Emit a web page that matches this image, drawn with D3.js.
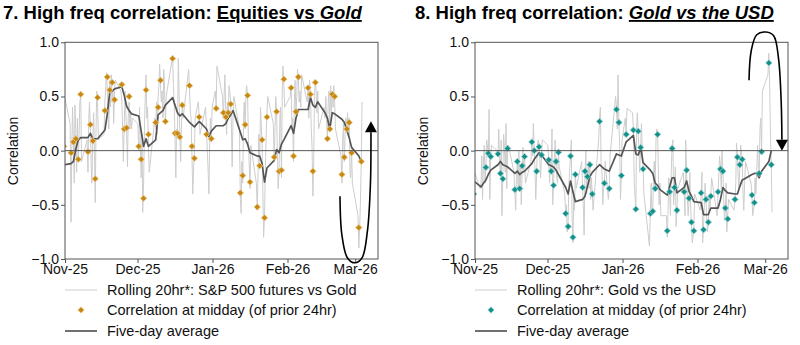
<!DOCTYPE html>
<html>
<head>
<meta charset="utf-8">
<script src="https://cdn.jsdelivr.net/npm/d3@7"></script>
<style>
  body { margin: 0; background: #fff; }
  svg { display: block; font-family: "Liberation Sans", Arial, sans-serif; }
</style>
</head>
<body>
<svg id="chart" width="800" height="345"></svg>
<script>
// trading days run Oct 31 2025 .. Mar 3 2026, weekdays less the two holidays
var holidays = ["2025-12-25", "2026-01-01"];
var xTickDates = ["2025-11-01", "2025-12-01", "2026-01-01", "2026-02-01", "2026-03-01"];
var xTickLabels = ["Nov-25", "Dec-25", "Jan-26", "Feb-26", "Mar-26"];
var yTicks = [1, 0.5, 0, -0.5, -1];
var rollHours = [3, 12, 20];   // three rolling readings per trading day

// chart 7: equities vs gold (one value per trading day, null = no dot)
var eqGoldDots = [0.04,
  -0.02, 0.08, 0.11, -0.08, 0.52,   -0.01, 0.24, 0.09, -0.26, 0.49,
  0.37, 0.68, 0.56, 0.63, 0.47,     0.61, 0.20, 0.21, 0.50, null,
  0.04, -0.08, -0.44, 0.56, 0.15,   0.26, 0.40, 0.65, null, 0.27,
  0.85, 0.16, 0.16, 0.125, 0.42,    0.60, 0.04, -0.07,   0.31,   0.15, null, 0.11,
  0.39,
  0.35, 0.31, 0.35, 0.43, null,     -0.39, -0.23, 0.24, 0.51, -0.29,
  -0.52, -0.14, 0.10, -0.62, 0.31,  -0.06, 0.36, -0.19, -0.18, 0.66,
  0.58, -0.05, 0.36, 0.68, null,    0.58, 0.52, -0.19, 0.63, null,
  null, 0.11, 0.20, 0.52, 0.50,     -0.22, -0.06, 0.20, 0.26, -0.02,
  -0.71, -0.10];
var eqGoldAvg = [-0.13,
  -0.12, -0.10, 0.02, 0.10, 0.12,   0.12, 0.16, 0.11, 0.11, 0.11,
  0.19, 0.34, 0.54, 0.55, 0.57,     0.59, 0.51, 0.41, 0.37, 0.34,
  0.32, 0.18, 0.04, 0.11, 0.04,     0.10, 0.33, 0.35, 0.37, 0.42,
  0.49, 0.42, 0.35, 0.32, 0.34,     0.26, 0.24, 0.22,   0.27,   0.20, 0.13, 0.18,
  0.23,
  0.23, 0.25, 0.30, 0.33, 0.37,     0.17, 0.10, 0.11, 0.06, -0.02,
  -0.05, -0.05, -0.12, -0.29, -0.16, -0.09, 0.01, -0.02, 0.06, 0.10,
  0.23, 0.16, 0.30, 0.38, 0.38,     0.38, 0.49, 0.42, 0.40, 0.45,
  0.35, 0.30, 0.20, 0.35, 0.34,     0.29, 0.26, 0.19, 0.12, 0.03,
  -0.05, -0.10];
var eqGoldRoll = [
  0.10, 0.30, 0.50,
  0.25, -0.66, 0.05,  0.40, 0.05, -0.30,  0.42, 0.15, -0.20,  0.30, -0.10, 0.15,  0.45, 0.50, -0.10,
  0.10, -0.20, 0.30,  0.45, 0.20, -0.15,  -0.30, 0.10, 0.35,  0.05, -0.48, 0.20,  0.55, 0.40, 0.10,
  0.15, 0.45, 0.60,  0.72, 0.55, 0.30,  0.20, 0.65, 0.40,  0.70, 0.45, 0.55,  0.25, 0.55, 0.65,
  0.55, 0.45, 0.20,  -0.10, 0.25, 0.55,  0.35, 0.15, -0.15,  0.30, 0.45, 0.20,  0.35, 0.20, 0.30,
  0.25, 0.00, 0.40,  0.10, -0.25, 0.15,  -0.57, -0.30, 0.20,  0.45, 0.70, 0.30,  0.40, 0.05, -0.20,
  0.30, 0.20, 0.45,  0.15, 0.50, 0.60,  0.80, 0.60, 0.45,  0.55, 0.30, 0.75,  0.60, 0.25, 0.50,
  0.82, 0.88, 0.60,  0.45, 0.10, -0.25,  0.20, 0.15, 0.85,  0.60, 0.10, -0.10,  0.20, 0.45, 0.30,
  0.75, 0.55, 0.35,  0.30, -0.05, -0.40,  -0.20, 0.00, 0.30,
  0.45, 0.30, 0.15,
  0.40, 0.20, 0.00,  -0.15, -0.40, 0.10,  0.30, 0.10, 0.40,
  0.55, 0.40, 0.78,
  0.50, 0.30, 0.55,  0.70, 0.35, 0.15,  0.45, 0.30, 0.60,  0.55, 0.45, 0.20,  -0.15, 0.35, 0.50,
  0.20, -0.45, -0.58,  -0.10, -0.30, 0.30,  0.45, 0.20, 0.55,  0.60, 0.50, 0.10,  -0.10, -0.35, 0.05,
  -0.30, -0.55, -0.20,  0.15, -0.10, 0.40,  0.25, 0.05, -0.40,  -0.80, -0.60, -0.20,  0.10, 0.35, 0.50,
  0.25, -0.10, 0.20,  0.50, 0.35, -0.05,  -0.35, -0.20, 0.30,  0.40, -0.25, 0.55,  0.78, 0.60, 0.40,
  0.50, 0.60, 0.20,  0.30, -0.10, 0.45,  0.65, 0.35, 0.50,  0.75, 0.65, 0.45,  0.55, 0.40, 0.70,
  0.45, 0.60, 0.30,  0.65, 0.50, 0.20,  0.05, -0.42, -0.10,  0.50, 0.65, 0.55,  0.35, 0.55, 0.20,
  0.40, 0.30, 0.50,  0.30, 0.10, 0.45,  0.55, 0.25, 0.60,  0.35, 0.55, 0.40,  0.60, 0.45, 0.20,
  -0.05, -0.30, 0.10,  0.25, -0.10, 0.15,  0.30, 0.20, 0.35,  0.15, 0.30, -0.20,  -0.25, 0.00, -0.30,
  -0.60, -0.90, -0.70,  -0.50, -0.10, 0.45];

// chart 8: gold vs the USD
var goldUsdDots = [-0.40,
  null, null, -0.155, -0.025, -0.055,  -0.03, -0.21, -0.26, null, 0.02,
  -0.36, -0.10, -0.35, -0.14, -0.055,  0.08, 0.00, -0.19, 0.035, -0.04,
  -0.085, -0.19, -0.32, -0.10, -0.015, -0.58, -0.70, -0.05, -0.80, -0.22,
  -0.34, -0.19, -0.24, -0.13, -0.40,   0.27, null, -0.30,   -0.35,   0.38, 0.26, -0.23,
  0.15,
  0.19, -0.54, 0.18, 0.03, -0.17,      -0.58, -0.56, -0.35, 0.15, null,
  -0.74, -0.38, 0.02, -0.34, -0.55,    -0.38, -0.18, -0.44, -0.66, -0.74,
  -0.39, -0.73, -0.45, -0.66, -0.42,   -0.38, -0.17, -0.19, -0.53, -0.63,
  -0.45, -0.06, -0.13, -0.08, null,    -0.41, -0.48, null, -0.21, -0.01,
  0.81, -0.13];
var goldUsdAvg = [-0.28,
  -0.335, -0.30, -0.27, -0.22, -0.18,  -0.13, -0.10, -0.13, -0.14, -0.15,
  -0.21, -0.19, -0.22, -0.20, -0.19,   -0.12, -0.08, -0.05, -0.02, -0.04,
  -0.13, -0.14, -0.15, -0.18, -0.22,   -0.34, -0.40, -0.28, -0.38, -0.47,
  -0.45, -0.42, -0.33, -0.24, -0.20,   -0.13, -0.15, -0.17,   -0.19,   -0.03, -0.04, -0.05,
  0.08,
  0.14, -0.03, -0.04, 0.03, -0.11,     -0.18, -0.21, -0.30, -0.32, -0.36,
  -0.41, -0.33, -0.25, -0.25, -0.39,   -0.34, -0.28, -0.375, -0.42, -0.47,
  -0.48, -0.59, -0.59, -0.59, -0.53,   -0.53, -0.45, -0.34, -0.37, -0.39,
  -0.40, -0.40, -0.33, -0.27, -0.26,   -0.22, -0.21, -0.21, -0.25, -0.19,
  -0.10, 0.00];
var goldUsdRoll = [
  -0.25, -0.40, -0.20,
  -0.35, -0.30, -0.05,  -0.45, -0.10, 0.05,  -0.30, -0.15, 0.10,  0.05, -0.05, 0.38,  -0.45, -0.05, 0.05,
  0.00, -0.05, 0.20,  -0.10, -0.22, 0.10,  -0.60, -0.25, 0.15,  0.05, -0.20, 0.25,  -0.35, 0.00, 0.05,
  -0.20, -0.40, -0.55,  -0.25, -0.10, -0.35,  0.00, -0.35, -0.15,  -0.50, -0.15, 0.03,  -0.20, -0.05, -0.30,
  -0.10, 0.10, -0.05,  0.25, 0.00, -0.20,  -0.45, -0.20, 0.05,  0.10, 0.05, -0.10,  -0.25, -0.05, 0.10,
  0.05, -0.10, -0.30,  -0.10, -0.20, 0.20,  -0.50, -0.30, -0.05,  0.10, -0.10, -0.25,  -0.30, 0.00, -0.15,
  -0.40, -0.60, -0.50,  -0.75, -0.65, -0.30,  -0.20, -0.05, 0.10,  -0.60, -0.85, -0.40,  -0.55, -0.20, -0.35,
  -0.10, -0.35, -0.55,  -0.78, -0.20, 0.00,  -0.40, -0.25, -0.10,  -0.35, -0.10, -0.45,  -0.25, -0.40, -0.55,
  0.10, 0.30, 0.40,  -0.10, -0.20, -0.50,  -0.35, -0.30, -0.10,
  -0.45, -0.35, -0.05,
  0.50, 0.40, 0.20,  0.70, 0.25, 0.05,  -0.45, -0.25, 0.10,
  0.30, 0.15, 0.39,
  0.35, 0.20, -0.30,  -0.40, -0.55, 0.20,  0.35, 0.15, 0.00,  -0.20, 0.05, 0.25,  0.05, -0.15, -0.40,
  -0.88, -0.55, -0.30,  -0.60, -0.55, -0.20,  -0.10, -0.35, 0.10,  0.20, 0.15, -0.20,  -0.50, -0.30, -0.60,
  -0.60, -0.80, -0.55,  -0.25, -0.40, -0.60,  -0.20, 0.05, 0.10,  -0.50, -0.35, -0.15,  -0.70, -0.55, -0.35,
  -0.20, -0.40, -0.60,  0.10, -0.20, -0.45,  -0.60, -0.45, -0.20,  -0.50, -0.70, -0.85,  -0.80, -0.70, -0.40,
  -0.55, -0.40, -0.20,  -0.85, -0.70, -0.50,  -0.30, -0.45, -0.65,  -0.75, -0.65, -0.40,  -0.55, -0.40, -0.25,
  -0.60, -0.40, -0.20,  -0.05, -0.15, -0.35,  0.00, -0.20, -0.45,  -0.65, -0.55, -0.30,  -0.75, -0.60, -0.45,
  -0.55, -0.45, -0.30,  0.07, -0.05, -0.25,  -0.35, -0.15, 0.05,  0.00, -0.10, -0.40,  -0.55, -0.30, -0.10,
  -0.30, -0.40, -0.60,  -0.55, -0.50, -0.25,  -0.40, -0.20, 0.05,  -0.10, -0.20, 0.20,  0.30, 0.00, 0.55,
  0.70, 0.90, 0.60,  0.20, -0.15, -0.57];

// hand-drawn arrows, as [days after Nov 1, correlation]
var eqGoldArrow = [[113.7, -0.42], [114.5, -0.78], [116.8, -0.99], [119.9, -1.035], [122.8, -0.99],
                   [125.0, -0.75], [126.3, -0.30], [126.5, 0.17]];
var goldUsdArrow = [[113.3, 0.65], [114.2, 0.92], [116.5, 1.07], [120.3, 1.095], [123.5, 1.06],
                    [125.5, 0.85], [126.6, 0.45], [126.9, 0.10]];

var parse = d3.timeParse("%Y-%m-%d");
var fmtDay = d3.timeFormat("%Y-%m-%d");
var tradingDays = d3.timeDay.range(new Date(2025, 9, 31), new Date(2026, 2, 4)).filter(function (d) {
    var w = d.getDay();
    return w > 0 && w < 6 && holidays.indexOf(fmtDay(d)) < 0;
});

var svg = d3.select('#chart');
var t0 = new Date(2025, 10, 1);

var panel = function (cfg) {
    var g = svg.append('g').attr('transform', 'translate(' + cfg.dx + ',0)');
    var x = d3.scaleTime().domain([t0, new Date(2026, 2, 10, 10)]).range([65, 378]);
    var y = d3.scaleLinear().domain([-1, 1]).range([259, 42.3]);
    var dayX = function (d) { return x(new Date(t0.getTime() + d * 864e5)); };

    g.append('clipPath').attr('id', 'clip' + cfg.id)
        .append('rect').attr('x', 65).attr('y', 42.3).attr('width', 313).attr('height', 216.7);
    var plot = g.append('g').attr('clip-path', 'url(#clip' + cfg.id + ')');

    // rolling 20hr series
    var roll = [];
    tradingDays.forEach(function (d, i) {
        rollHours.forEach(function (h, k) {
            var v = cfg.roll[i * 3 + k];
            if (v !== undefined) roll.push([d3.timeHour.offset(d, h), v]);
        });
    });
    plot.append('path').datum(roll)
        .attr('fill', 'none').attr('stroke', '#cdcdcd').attr('stroke-width', 1)
        .attr('d', d3.line().x(function (d) { return x(d[0]); }).y(function (d) { return y(d[1]); }));

    // zero line
    g.append('line').attr('x1', 65).attr('x2', 378).attr('y1', y(0)).attr('y2', y(0))
        .attr('stroke', '#555').attr('stroke-width', 1);

    // five-day average
    var avg = tradingDays.map(function (d, i) { return [d3.timeHour.offset(d, 12), cfg.avg[i]]; });
    plot.append('path').datum(avg)
        .attr('fill', 'none').attr('stroke', '#555').attr('stroke-width', 1.7)
        .attr('stroke-linejoin', 'round')
        .attr('d', d3.line().defined(function (d) { return d[1] != null; })
            .x(function (d) { return x(d[0]); }).y(function (d) { return y(d[1]); }));

    // midday dots
    var dots = tradingDays.map(function (d, i) { return [d3.timeHour.offset(d, 12), cfg.dots[i]]; })
        .filter(function (d) { return d[1] != null; });
    var diamond = d3.symbol().type(d3.symbolSquare).size(20);
    plot.selectAll('path.dot').data(dots).enter().append('path')
        .attr('class', 'dot')
        .attr('d', diamond)
        .attr('transform', function (d) { return 'translate(' + x(d[0]) + ',' + y(d[1]) + ') rotate(45)'; })
        .attr('fill', cfg.color).attr('stroke', cfg.halo).attr('stroke-width', 0.8);

    // frame
    g.append('rect').attr('x', 65).attr('y', 42.3).attr('width', 313).attr('height', 216.7)
        .attr('fill', 'none').attr('stroke', '#555').attr('stroke-width', 1);

    var xAxis = g.append('g').attr('transform', 'translate(0,259)')
        .call(d3.axisBottom(x).tickValues(xTickDates.map(parse)).tickSize(4)
            .tickFormat(function (d, i) { return xTickLabels[i]; }));
    var yAxis = g.append('g').attr('transform', 'translate(65,0)')
        .call(d3.axisLeft(y).tickValues(yTicks).tickSize(4).tickFormat(d3.format('.1f')));
    [xAxis, yAxis].forEach(function (a) {
        a.select('.domain').remove();
        a.selectAll('line').attr('stroke', '#555');
        a.selectAll('text').attr('font-size', 14).attr('fill', '#111')
            .attr('font-family', '"Liberation Sans", Arial, sans-serif');
    });
    xAxis.selectAll('text').attr('dy', '0.72em').attr('y', 5);
    yAxis.selectAll('text').attr('x', -6);

    g.append('text').attr('transform', 'translate(' + cfg.labelX + ',151) rotate(-90)')
        .attr('text-anchor', 'middle').attr('font-size', 14).attr('fill', '#111')
        .text('Correlation');

    // title
    var title = g.append('text').attr('x', cfg.titleX).attr('y', 19)
        .attr('font-size', 18.5).attr('font-weight', 'bold').attr('fill', '#000');
    cfg.title.forEach(function (p) {
        var s = title.append('tspan').text(p.t);
        if (p.u) s.attr('text-decoration', 'underline');
        if (p.i) s.attr('font-style', 'italic');
    });

    // legend
    var lg = g.append('g');
    lg.append('line').attr('x1', 65).attr('x2', 97).attr('y1', 290).attr('y2', 290)
        .attr('stroke', '#cdcdcd').attr('stroke-width', 1);
    lg.append('path').attr('d', diamond).attr('transform', 'translate(81,310) rotate(45)')
        .attr('fill', cfg.color).attr('stroke', cfg.halo).attr('stroke-width', 0.8);
    lg.append('line').attr('x1', 65).attr('x2', 97).attr('y1', 331).attr('y2', 331)
        .attr('stroke', '#555').attr('stroke-width', 1.7);
    [cfg.rollLabel, 'Correlation at midday (of prior 24hr)', 'Five-day average'].forEach(function (t, i) {
        lg.append('text').attr('x', 107).attr('y', [295, 315, 336][i])
            .attr('font-size', 14.5).attr('fill', '#111').text(t);
    });

    // arrow annotation
    var pts = cfg.arrow.map(function (p) { return [dayX(p[0]), y(p[1])]; });
    g.append('path').datum(pts).attr('fill', 'none').attr('stroke', '#000').attr('stroke-width', 1.6)
        .attr('d', d3.line().curve(d3.curveCatmullRom));
    var end = pts[pts.length - 1];
    var dir = cfg.arrowUp ? -1 : 1;
    g.append('path')
        .attr('d', 'M' + (end[0] - 6) + ',' + end[1] + 'L' + (end[0] + 6) + ',' + end[1] +
            'L' + end[0] + ',' + (end[1] + dir * 11) + 'Z')
        .attr('fill', '#000');
};

panel({
    id: 'a', dx: 0, titleX: 3, labelX: 18,
    dots: eqGoldDots, avg: eqGoldAvg, roll: eqGoldRoll,
    color: '#c8870e', halo: '#e9c98a',
    rollLabel: 'Rolling 20hr*: S&P 500 futures vs Gold',
    title: [{ t: '7. High freq correlation: ' }, { t: 'Equities vs ', u: true }, { t: 'Gold', u: true, i: true }],
    arrow: eqGoldArrow, arrowUp: true
});
panel({
    id: 'b', dx: 410, titleX: 5, labelX: 18,
    dots: goldUsdDots, avg: goldUsdAvg, roll: goldUsdRoll,
    color: '#13908b', halo: '#8fcfcb',
    rollLabel: 'Rolling 20hr*: Gold vs the USD',
    title: [{ t: '8. High freq correlation: ' }, { t: 'Gold vs the USD', u: true, i: true }],
    arrow: goldUsdArrow, arrowUp: false
});
</script>
</body>
</html>
